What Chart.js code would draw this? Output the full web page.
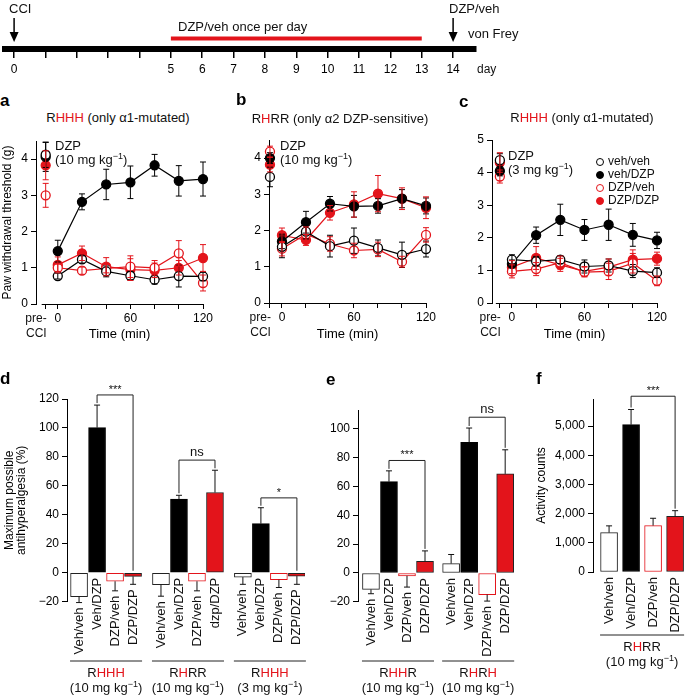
<!DOCTYPE html>
<html>
<head>
<meta charset="utf-8">
<script src="https://cdn.jsdelivr.net/npm/chart.js@4.4.1/dist/chart.umd.min.js"></script>
<style>
  body { margin: 0; background: #fff; font-family: "Liberation Sans", Arial, Helvetica, sans-serif; }
  #fig { position: relative; width: 685px; height: 695px; overflow: hidden; }
  #fig canvas { position: absolute; }
  .t { position: absolute; font-size: 13px; color: #111; white-space: nowrap; line-height: 1; }
  .r { color: #e3141b; }
  .lab { font-weight: bold; font-size: 17px; color: #000; }
  .sup { font-size: 9px; position: relative; top: -5px; }
  .small { font-size: 12px; }
  .dot { display: inline-block; width: 6px; height: 6px; border: 1.3px solid; border-radius: 50%; margin-right: 4px; vertical-align: -1px; }
</style>
</head>
<body>
<div id="fig"></div>
<script>
// ---- data ----
const RED = '#e3141b';

// timeline (days)
const days = [0, 1, 2, 3, 4, 5, 6, 7, 8, 9, 10, 11, 12, 13, 14];
const labeledDays = [0, 5, 6, 7, 8, 9, 10, 11, 12, 13, 14];
const treatmentDays = [5, 13];
const arrowDays = [0, 14];

// von Frey time courses: first value is the pre-CCI baseline
const seriesNames = ['veh/veh', 'veh/DZP', 'DZP/veh', 'DZP/DZP'];
const sampleTimes = [-10, 0, 20, 40, 60, 80, 100, 120];
const timeTicks = [-10, 0, 20, 40, 60, 80, 100, 120];

const aMeans = [
  [4.12, 0.77, 1.23, 0.90, 0.78, 0.67, 0.77, 0.76],
  [4.06, 1.46, 2.82, 3.30, 3.36, 3.83, 3.40, 3.45],
  [3.00, 1.00, 0.92, 0.98, 1.03, 1.00, 1.40, 0.58],
  [3.83, 1.08, 1.40, 1.03, 0.95, 0.93, 1.00, 1.27]
];
const aErrors = [
  [0.35, 0.08, 0.10, 0.15, 0.12, 0.12, 0.30, 0.12],
  [0.40, 0.30, 0.22, 0.42, 0.45, 0.30, 0.42, 0.47],
  [0.33, 0.10, 0.10, 0.12, 0.30, 0.20, 0.35, 0.22],
  [0.40, 0.22, 0.20, 0.25, 0.30, 0.20, 0.20, 0.37]
];
const bMeans = [
  [3.48, 1.55, 1.97, 1.57, 1.72, 1.52, 1.33, 1.49],
  [4.00, 1.70, 2.23, 2.74, 2.67, 2.68, 2.88, 2.68],
  [4.18, 1.50, 1.90, 1.63, 1.45, 1.48, 1.14, 1.88],
  [3.82, 1.87, 1.74, 2.49, 2.72, 3.02, 2.88, 2.63]
];
const bErrors = [
  [0.27, 0.30, 0.20, 0.30, 0.35, 0.22, 0.35, 0.22],
  [0.15, 0.20, 0.30, 0.20, 0.30, 0.20, 0.25, 0.22],
  [0.15, 0.20, 0.20, 0.20, 0.20, 0.20, 0.15, 0.20],
  [0.20, 0.20, 0.15, 0.20, 0.35, 0.50, 0.30, 0.30]
];
const cMeans = [
  [4.38, 1.33, 1.28, 1.33, 1.12, 1.15, 0.98, 0.93],
  [4.05, 1.20, 2.08, 2.55, 2.24, 2.40, 2.09, 1.92],
  [3.88, 0.97, 1.04, 1.24, 0.95, 0.97, 1.22, 0.68],
  [4.31, 1.10, 1.38, 1.17, 0.97, 1.10, 1.33, 1.36]
];
const cErrors = [
  [0.20, 0.15, 0.15, 0.12, 0.20, 0.20, 0.20, 0.15],
  [0.15, 0.12, 0.25, 0.48, 0.32, 0.48, 0.35, 0.25],
  [0.20, 0.20, 0.20, 0.20, 0.15, 0.25, 0.30, 0.15],
  [0.30, 0.20, 0.35, 0.20, 0.15, 0.25, 0.30, 0.20]
];
const abTicks = [0, 1, 2, 3, 4];
const cTicks = [0, 1, 2, 3, 4, 5];

// bar panels
const conditions = ['Veh/veh', 'Veh/DZP', 'DZP/veh', 'DZP/DZP'];

const dGroups = ['RHHH', 'RHRR', 'RHHH'];
const dDoses = [10, 10, 3];
const dLabels = [conditions, ['Veh/veh', 'Veh/DZP', 'DZP/veh', 'dzp/DZP'], conditions];
const dValues = [[-16.6, 100.2, -5.9, -2.5], [-8.2, 50.8, -5.9, 55.4], [-3.0, 33.9, -4.8, -2.3]];
const dErrors = [[4, 15.6, 6.6, 5.5], [8, 2.7, 6.6, 15.4], [5, 11, 5.4, 5.7]];
const dSig = [[0, 1, 3, '***', 122.8], [1, 1, 3, 'ns', 77.8], [2, 1, 3, '*', 51.7]];
const dTicks = [-20, 0, 20, 40, 60, 80, 100, 120];

const eGroups = ['RHHR', 'RHRH'];
const eDoses = [10, 10];
const eLabels = [conditions, conditions];
const eValues = [[-11.4, 63.3, -2.0, 8.1], [6.5, 90.5, -15.0, 68.7]];
const eErrors = [[3, 7.5, 7.8, 7.2], [6.3, 10, 4.5, 16.7]];
const eSig = [[0, 1, 3, '***', 78], [1, 1, 3, 'ns', 108]];
const eTicks = [-20, 0, 20, 40, 60, 80, 100];

const fGroups = ['RHRR'];
const fDoses = [10];
const fLabels = [conditions];
const fValues = [[1350, 5045, 1590, 1910]];
const fErrors = [[230, 520, 250, 190]];
const fSig = [[0, 1, 3, '***', 6020]];
const fTicks = [0, 1000, 2000, 3000, 4000, 5000];

// ---- setup ----
const FONT = '"Liberation Sans", Arial, Helvetica, sans-serif';
Chart.defaults.font.family = FONT;
Chart.defaults.font.size = 12;
Chart.defaults.color = '#000';
Chart.defaults.animation = false;
Chart.defaults.plugins.legend.display = false;
Chart.defaults.plugins.tooltip.enabled = false;

const fig = document.getElementById('fig');

function addCanvas(left, top, w, h) {
  const c = document.createElement('canvas');
  c.width = w; c.height = h;
  c.style.left = left + 'px'; c.style.top = top + 'px';
  c.style.width = w + 'px'; c.style.height = h + 'px';
  fig.appendChild(c);
  return c;
}

// anchor: 'l' left, 'c' centre, 'r' right
function addText(html, x, y, cls, anchor) {
  const d = document.createElement('div');
  d.className = 't ' + (cls || '');
  d.innerHTML = html;
  d.style.left = x + 'px';
  d.style.top = y + 'px';
  const tx = anchor === 'c' ? '-50%' : (anchor === 'r' ? '-100%' : '0');
  d.style.transform = 'translate(' + tx + ',-50%)';
  fig.appendChild(d);
}

const redH = s => s.replace(/H/g, '<span class="r">H</span>');
const dose = n => '(' + n + ' mg kg<span class="sup">\u22121</span>)';

const axisGrid = { drawOnChartArea: false, drawTicks: true, tickLength: 5, color: '#000', lineWidth: 1 };
const axisBorder = { color: '#000', width: 1 };

// error bars (both directions for points, outward only for bars)
const errorBars = {
  id: 'errorBars',
  afterDatasetsDraw(chart) {
    const { ctx, scales: { x, y } } = chart;
    ctx.save();
    ctx.lineWidth = 1;
    chart.data.datasets.forEach(ds => {
      if (!ds.errors) return;
      ctx.strokeStyle = ds.errColor || ds.borderColor;
      ds.data.forEach((p, i) => {
        const e = ds.errors[i];
        let lo = p.y - e, hi = p.y + e;
        if (ds.oneSided) { if (p.y >= 0) lo = p.y; else hi = p.y; }
        const px = x.getPixelForValue(p.x);
        const y1 = y.getPixelForValue(hi), y2 = y.getPixelForValue(lo);
        ctx.beginPath();
        ctx.moveTo(px, y1); ctx.lineTo(px, y2);
        if (!ds.oneSided || p.y >= 0) { ctx.moveTo(px - 3, y1); ctx.lineTo(px + 3, y1); }
        if (!ds.oneSided || p.y < 0) { ctx.moveTo(px - 3, y2); ctx.lineTo(px + 3, y2); }
        ctx.stroke();
      });
    });
    ctx.restore();
  }
};

// x axis line that starts at the baseline tick instead of the y axis
const timeAxisLine = {
  id: 'timeAxisLine',
  afterDraw(chart) {
    const { ctx, scales: { x } } = chart;
    const x1 = Math.max(x.left, x.getPixelForValue(sampleTimes[0]) - 4);
    ctx.save();
    ctx.strokeStyle = '#000'; ctx.lineWidth = 1;
    ctx.beginPath(); ctx.moveTo(x1, x.top + 0.5); ctx.lineTo(x.right, x.top + 0.5); ctx.stroke();
    ctx.restore();
  }
};

// ---- timeline ----
const arrows = {
  id: 'arrows',
  afterDraw(chart) {
    const { ctx, scales: { x } } = chart;
    ctx.save();
    ctx.strokeStyle = '#000'; ctx.fillStyle = '#000'; ctx.lineWidth = 1.5;
    arrowDays.forEach(d => {
      const px = x.getPixelForValue(d);
      ctx.beginPath(); ctx.moveTo(px, 18); ctx.lineTo(px, 33); ctx.stroke();
      ctx.beginPath(); ctx.moveTo(px - 4.5, 32); ctx.lineTo(px + 4.5, 32); ctx.lineTo(px, 42); ctx.closePath(); ctx.fill();
    });
    ctx.restore();
  }
};

new Chart(addCanvas(0, 0, 685, 90), {
  type: 'line',
  data: { datasets: [{ data: treatmentDays.map(d => ({ x: d, y: 0.27 })), borderColor: RED, borderWidth: 4, pointRadius: 0 }] },
  options: {
    responsive: false, devicePixelRatio: 1,
    layout: { padding: { left: 5, right: 209, top: 10, bottom: 0 } },
    scales: {
      x: {
        type: 'linear', min: -0.29, max: 14.73,
        afterBuildTicks: s => { s.ticks = days.map(v => ({ value: v })); },
        afterFit: s => { s.height = 41; },
        ticks: { autoSkip: false, maxRotation: 0, padding: 4, callback: v => labeledDays.includes(v) ? String(v) : '' },
        grid: { drawOnChartArea: false, tickLength: 9, color: '#000', lineWidth: 1.5 },
        border: { color: '#000', width: 6 }
      },
      y: { display: false, min: 0, max: 1 }
    }
  },
  plugins: [arrows]
});
addText('CCI', 9, 8);
addText('DZP/veh once per day', 178, 26);
addText('DZP/veh', 449, 8);
addText('von Frey', 468, 33);
addText('day', 477, 69, 'small');

// ---- time-course panels ----
const seriesColor = ['#000', '#000', RED, RED];
const seriesFilled = [false, true, false, true];

function lineChart(box, xMin, yMax, yTicks, means, errs, yTitle) {
  const [left, top, w, h, yw, xh, padT, padR] = box;
  const chart = new Chart(addCanvas(left, top, w, h), {
    type: 'line',
    data: {
      datasets: seriesNames.map((name, k) => ({
        label: name,
        data: sampleTimes.map((t, i) => ({ x: t, y: means[k][i] })),
        errors: errs[k],
        borderColor: seriesColor[k],
        borderWidth: 1.2,
        pointRadius: 4.5,
        pointBorderWidth: 1.3,
        pointBackgroundColor: seriesFilled[k] ? seriesColor[k] : '#fff',
        pointBorderColor: seriesColor[k],
        clip: false,
        segment: { borderColor: c => c.p0DataIndex === 0 ? 'rgba(0,0,0,0)' : undefined }
      }))
    },
    options: {
      responsive: false, devicePixelRatio: 1,
      layout: { padding: { left: 0, top: padT, right: padR, bottom: 0 } },
      scales: {
        x: {
          type: 'linear', min: xMin, max: 120,
          afterBuildTicks: s => { s.ticks = timeTicks.map(v => ({ value: v })); },
          afterFit: s => { s.height = xh; },
          ticks: { autoSkip: false, maxRotation: 0, padding: 2, callback: v => (v % 60 === 0 ? String(v) : '') },
          grid: axisGrid, border: { display: false },
          title: { display: true, text: 'Time (min)', font: { size: 13 }, padding: { top: 0, bottom: 3 } }
        },
        y: {
          min: 0, max: yMax,
          afterBuildTicks: s => { s.ticks = yTicks.map(v => ({ value: v })); },
          afterFit: s => { s.width = yw; },
          ticks: { padding: 3 },
          grid: axisGrid, border: axisBorder,
          title: yTitle ? { display: true, text: yTitle, font: { size: 12 }, padding: { top: 0, bottom: 0 } } : { display: false }
        }
      }
    },
    plugins: [errorBars, timeAxisLine]
  });
  // the baseline slot is labelled right-aligned to its tick
  const px = left + chart.scales.x.getPixelForValue(sampleTimes[0]) + 1;
  const py = top + chart.scales.x.top + 14;
  addText('pre-', px, py, 'small', 'r');
  addText('CCI', px, py + 15, 'small', 'r');
  return chart;
}

lineChart([0, 128, 216, 217, 36, 41, 13, 13], -18, 4.5, abTicks, aMeans, aErrors, 'Paw withdrawal threshold (g)');
lineChart([225, 128, 215, 217, 44, 42, 12, 14], -10.8, 4.5, abTicks, bMeans, bErrors, null);
lineChart([450, 128, 222, 217, 42, 42, 12, 15], -16.5, 5, cTicks, cMeans, cErrors, null);

addText('a', 0, 100, 'lab');
addText('b', 236, 99, 'lab');
addText('c', 459, 101, 'lab');
addText(redH('RHHH') + ' (only \u03b11-mutated)', 118, 117, '', 'c');
addText('R<span class="r">H</span>RR (only \u03b12 DZP-sensitive)', 340, 118, '', 'c');
addText(redH('RHHH') + ' (only \u03b11-mutated)', 582, 117, '', 'c');
addText('DZP', 55, 145);
addText(dose(10), 55, 159);
addText('DZP', 280, 145);
addText(dose(10), 280, 159);
addText('DZP', 508, 155);
addText(dose(3), 508, 169);

// legend for c
seriesNames.forEach((name, k) => {
  const c = seriesColor[k];
  addText('<span class="dot" style="border-color:' + c + ';background:' + (seriesFilled[k] ? c : '#fff') + '"></span>' + name,
    596, 161 + k * 13, 'small');
});

// ---- bar panels ----
const barFill = ['#fff', '#000', '#fff', RED];
const barEdge = ['#222', '#000', RED, '#222'];

const barDecor = {
  id: 'barDecor',
  afterDraw(chart, args, o) {
    const { ctx, scales: { x, y } } = chart;
    const ds = chart.data.datasets[0];
    ctx.save();
    ctx.fillStyle = '#111';
    ctx.font = '13px ' + FONT;
    // rotated condition labels under each bar
    ds.data.forEach((p, i) => {
      const low = p.y < 0 ? p.y - ds.errors[i] : 0;
      ctx.save();
      ctx.translate(x.getPixelForValue(p.x), y.getPixelForValue(low) + 5);
      ctx.rotate(-Math.PI / 2);
      ctx.textAlign = 'right'; ctx.textBaseline = 'middle';
      ctx.fillText(ds.barLabels[i], 0, 0);
      ctx.restore();
    });
    // group underlines
    ctx.strokeStyle = '#222'; ctx.lineWidth = 1;
    o.groups.forEach((g, gi) => {
      const x1 = x.getPixelForValue(gi * o.step) - 9, x2 = x.getPixelForValue(gi * o.step + 3) + 9;
      ctx.beginPath(); ctx.moveTo(x1, o.lineY); ctx.lineTo(x2, o.lineY); ctx.stroke();
    });
    // significance brackets
    const tip = j => {
      const p = ds.data[j];
      return y.getPixelForValue(p.y > 0 ? p.y + ds.errors[j] : 0) - 2;
    };
    o.sig.forEach(([g, a, b, txt, level]) => {
      const ia = g * 4 + a, ib = g * 4 + b;
      const xa = x.getPixelForValue(ds.data[ia].x), xb = x.getPixelForValue(ds.data[ib].x);
      const yl = y.getPixelForValue(level);
      ctx.beginPath();
      ctx.moveTo(xa, tip(ia)); ctx.lineTo(xa, yl); ctx.lineTo(xb, yl); ctx.lineTo(xb, tip(ib));
      ctx.stroke();
      ctx.font = (txt === 'ns' ? '13px ' : '11px ') + FONT;
      ctx.textAlign = 'center'; ctx.textBaseline = 'alphabetic';
      ctx.fillText(txt, (xa + xb) / 2, yl - (txt === 'ns' ? 4 : 2));
    });
    ctx.restore();
  }
};

function barChart(cfg) {
  const [left, top, w, h, yw, padT, padR, padB] = cfg.box;
  const pts = [], labels = [], errs = [], fills = [], edges = [];
  cfg.groups.forEach((g, gi) => {
    cfg.values[gi].forEach((v, i) => {
      pts.push({ x: gi * cfg.step + i, y: v });
      labels.push(cfg.labels[gi][i]);
      errs.push(cfg.errors[gi][i]);
      fills.push(barFill[i]);
      edges.push(barEdge[i]);
    });
  });
  const chart = new Chart(addCanvas(left, top, w, h), {
    type: 'bar',
    data: {
      datasets: [{
        data: pts, errors: errs, oneSided: true, errColor: '#111', barLabels: labels,
        backgroundColor: fills, borderColor: edges, borderWidth: 1, borderSkipped: false,
        barThickness: 17
      }]
    },
    options: {
      responsive: false, devicePixelRatio: 1,
      layout: { padding: { left: 0, top: padT, right: padR, bottom: padB } },
      scales: {
        x: { type: 'linear', display: false, offset: false, grid: { offset: false }, min: cfg.xMin, max: cfg.xMax },
        y: {
          min: cfg.yMin, max: cfg.yMax,
          afterBuildTicks: s => { s.ticks = cfg.ticks.map(v => ({ value: v })); },
          afterFit: s => { s.width = yw; },
          ticks: { padding: 3, callback: v => cfg.comma ? v.toLocaleString('en-US') : String(v).replace('-', '\u2212') },
          grid: axisGrid, border: axisBorder,
          title: { display: true, text: cfg.yTitle, font: { size: 12, lineHeight: 1 }, padding: { top: cfg.titlePad, bottom: 0 } }
        }
      },
      plugins: { barDecor: { groups: cfg.groups, step: cfg.step, sig: cfg.sig, lineY: cfg.lineY - top } }
    },
    plugins: [errorBars, barDecor]
  });
  const xs = chart.scales.x;
  cfg.groups.forEach((g, gi) => {
    const cx = left + xs.getPixelForValue(gi * cfg.step + 1.5);
    addText(redH(g), cx, cfg.nameY, '', 'c');
    addText(dose(cfg.doses[gi]), cx, cfg.nameY + 15, '', 'c');
  });
  return chart;
}

barChart({
  box: [0, 370, 312, 325, 67, 29, 7, 93.3], step: 4.55, xMin: -0.67, xMax: 12.55,
  yMin: -20, yMax: 120, ticks: dTicks, groups: dGroups, doses: dDoses, labels: dLabels,
  values: dValues, errors: dErrors, sig: dSig, lineY: 661, nameY: 672,
  yTitle: ['Maximum possible', 'antihyperalgesia (%)'], titlePad: 4
});
barChart({
  box: [312, 370, 218, 325, 46, 40, 16, 93.2], step: 4.45, xMin: -0.72, xMax: 7.94,
  yMin: -20, yMax: 113, ticks: eTicks, groups: eGroups, doses: eDoses, labels: eLabels,
  values: eValues, errors: eErrors, sig: eSig, lineY: 661, nameY: 672,
  yTitle: '', titlePad: 0
});
barChart({
  box: [530, 370, 155, 325, 63, 29, 0, 123], step: 4, xMin: -0.73, xMax: 3.45,
  yMin: 0, yMax: 5925, ticks: fTicks, groups: fGroups, doses: fDoses, labels: fLabels,
  values: fValues, errors: fErrors, sig: fSig, lineY: 635, nameY: 646, comma: true,
  yTitle: 'Activity counts', titlePad: 6
});

addText('d', 0, 378, 'lab');
addText('e', 326, 379, 'lab');
addText('f', 536, 378, 'lab');
</script>
</body>
</html>
